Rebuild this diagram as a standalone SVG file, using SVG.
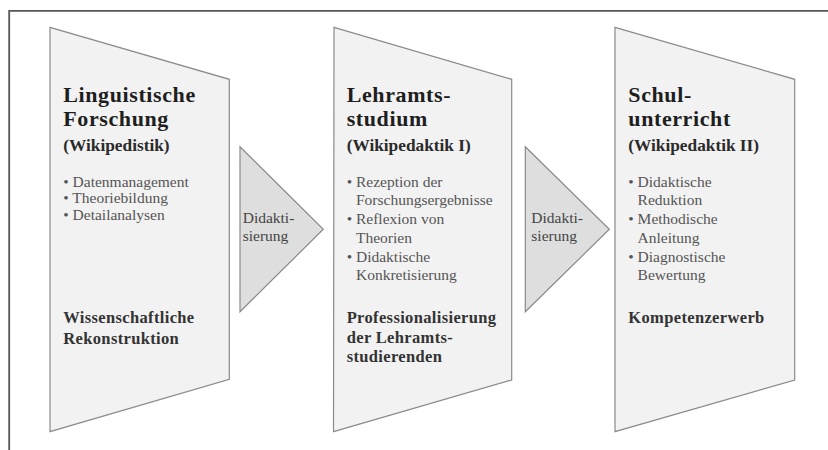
<svg xmlns="http://www.w3.org/2000/svg" width="828" height="450" viewBox="0 0 828 450">
<style>
.panel{fill:#f2f2f2;stroke:#8a8a8a;stroke-width:1.2}
.arrow{fill:#dedede;stroke:#8a8a8a;stroke-width:1.2}
text{font-family:"Liberation Serif","Times New Roman",serif}
.title{font-size:22px;font-weight:bold;fill:#1e1e1e;letter-spacing:0.6px}
.sub{font-size:17.3px;font-weight:bold;fill:#2a2a2a}
.item{font-size:15.5px;fill:#555}
.bold{font-size:16.5px;font-weight:bold;fill:#333;letter-spacing:0.35px}
.lab{font-size:15.5px;fill:#444}
</style>
<rect width="828" height="450" fill="#fff"/>
<path d="M9.2,450 V10.8 H828" fill="none" stroke="#555" stroke-width="1.8"/>
<g id="connectors">
<g id="arrow1">
<polygon class="arrow" points="240,146.7 323.3,229.3 240,311.7"/>
<text class="lab" x="242.7" y="222.7">Didakti-</text>
<text class="lab" x="242.7" y="240.5">sierung</text>
</g>
<g id="arrow2">
<polygon class="arrow" points="525.3,146.7 609.3,229.3 525.3,311.7"/>
<text class="lab" x="531.3" y="222.7">Didakti-</text>
<text class="lab" x="531.3" y="240.5">sierung</text>
</g>
</g>
<g id="node1">
<polygon class="panel" points="50,27.3 229.3,79.3 229.3,379.3 50,431.7"/>
<text class="title" x="63.3" y="101.5">Linguistische</text>
<text class="title" x="63.3" y="126">Forschung</text>
<text class="sub" x="63.3" y="150.5">(Wikipedistik)</text>
<text class="item" x="63.3" y="186.7">• Datenmanagement</text>
<text class="item" x="63.3" y="203.4">• Theoriebildung</text>
<text class="item" x="63.3" y="220.1">• Detailanalysen</text>
<text class="bold" x="63.3" y="323.3">Wissenschaftliche</text>
<text class="bold" x="63.3" y="343.8">Rekonstruktion</text>
</g>
<g id="node2">
<polygon class="panel" points="334,27.3 511.7,79.3 511.7,380 333.5,431.7"/>
<text class="title" x="346.7" y="101.5">Lehramts-</text>
<text class="title" x="346.7" y="126">studium</text>
<text class="sub" x="346.7" y="150.5">(Wikipedaktik I)</text>
<text class="item" x="346.7" y="186.7">• Rezeption der</text>
<text class="item" x="356" y="205.4">Forschungsergebnisse</text>
<text class="item" x="346.7" y="224.1">• Reflexion von</text>
<text class="item" x="356" y="242.8">Theorien</text>
<text class="item" x="346.7" y="261.5">• Didaktische</text>
<text class="item" x="356" y="280.2">Konkretisierung</text>
<text class="bold" x="346.7" y="323.3">Professionalisierung</text>
<text class="bold" x="346.7" y="342.8">der Lehramts-</text>
<text class="bold" x="346.7" y="362.3">studierenden</text>
</g>
<g id="node3">
<polygon class="panel" points="615,27.3 794.7,79.3 794.7,380 615,431.7"/>
<text class="title" x="628.3" y="101.5">Schul-</text>
<text class="title" x="628.3" y="126">unterricht</text>
<text class="sub" x="628.3" y="150.5">(Wikipedaktik II)</text>
<text class="item" x="628.3" y="186.7">• Didaktische</text>
<text class="item" x="637.6" y="205.4">Reduktion</text>
<text class="item" x="628.3" y="224.1">• Methodische</text>
<text class="item" x="637.6" y="242.8">Anleitung</text>
<text class="item" x="628.3" y="261.5">• Diagnostische</text>
<text class="item" x="637.6" y="280.2">Bewertung</text>
<text class="bold" x="628.3" y="323.3">Kompetenzerwerb</text>
</g>
</svg>
